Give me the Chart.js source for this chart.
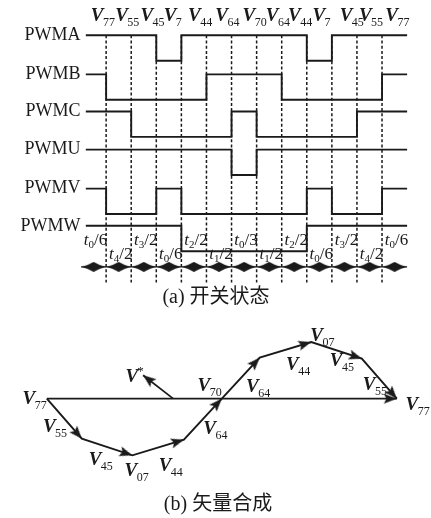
<!DOCTYPE html>
<html>
<head>
<meta charset="utf-8">
<title>开关状态与矢量合成</title>
<script src="https://cdn.jsdelivr.net/npm/chart.js@4.4.1/dist/chart.umd.min.js"></script>
<style>
  html, body { margin: 0; padding: 0; background: #fff; }
  #fig { display: block; }
</style>
</head>
<body>
<canvas id="fig" width="431" height="518"></canvas>
<script>
// ---------------- data ----------------
// switching sequence over one period (vector applied in each segment)
const segmentVectors = ['77','55','45','7','44','64','70','64','44','7','45','55','77'];
// dwell time of each segment: t_n / d
const dwellIndex = ['0','4','3','0','2','1','0','1','2','0','3','4','0'];
const dwellDiv   = ['6','2','2','6','2','2','3','2','2','6','2','2','6'];

const signalNames = ['PWMA','PWMB','PWMC','PWMU','PWMV','PWMW'];
const pwmA = [1,1,1,0,1,1,1,1,1,0,1,1,1];
const pwmB = [1,0,0,0,0,1,1,1,0,0,0,0,1];
const pwmC = [1,1,0,0,0,0,1,0,0,0,0,1,1];
const pwmU = [1,1,1,1,1,1,0,1,1,1,1,1,1];
const pwmV = [1,0,0,1,0,0,0,0,0,1,0,0,1];
const pwmW = [1,1,1,1,0,0,0,0,0,1,1,1,1];

// vector composition: successive vectors laid head to tail
const chainNames = ['55','45','07','44','64','70','64','44','07','45','55'];
const chainDx    = [36, 52, 0, 53, 39, 0, 39, 53, 0, 52, 36];
const chainDy    = [-41,-17, 0, 16, 42, 0, 42, 16, 0,-17,-41];
const chainStart = [-180, 0];
const refFrom = [-50, 0];
const refTo   = [-81, 24];

// ---------------- layout ----------------
const W = 431, H = 518;
const SEG_LEFT = 77.2, SEG_W = 25.8;       // first segment edge and segment width (px)
const ROW_HIGH = [30, 70, 108, 147, 187, 225];
const ROW_SWING = 26;
const WAVE_START = 0.19;
const GUIDE_TOP = 30, GUIDE_BOTTOM = 283;
const SPAN_Y = 267;
const PLANE_ORIGIN = [222, 402];            // px position of the V70 point
const INK = '#1a1a1a';
const SERIF = '"Liberation Serif", "Times New Roman", serif';
const CJK = '"Liberation Serif", "Noto Sans CJK SC", serif';

// horizontal offset of each header label from its segment edge (px)
const HEAD_SHIFT = [9.8, 9, 9.2, 7.4, 6.6, 8.8, 11, 9.2, 6.4, 5.6, 7.8, 2, 3.2];

// vector-plane label anchors [x, y] (left edge of V, centre of V)
const planeLabels = [
  ['77', -205, 1], ['55', -184, -27], ['45', -137, -61], ['07', -100, -72],
  ['44', -65, -67], ['64', -19, -30], ['70', -25, 15], ['64', 25, 13],
  ['44', 66, 36], ['07', 91, 66], ['45', 111, 40], ['55', 145, 16], ['77', 189, -5]
];
const refLabel = [-99, 24];

// ---------------- glyph images for markers ----------------
function makeSpanMark(w, h) {
  const c = document.createElement('canvas');
  c.width = w; c.height = h;
  const g = c.getContext('2d');
  const m = h / 2;
  g.fillStyle = INK;
  g.beginPath();
  g.moveTo(0, m);
  g.quadraticCurveTo(w * 0.3, m - h * 0.2, w / 2, 0);
  g.quadraticCurveTo(w * 0.7, m - h * 0.2, w, m);
  g.quadraticCurveTo(w * 0.7, m + h * 0.2, w / 2, h);
  g.quadraticCurveTo(w * 0.3, m + h * 0.2, 0, m);
  g.fill();
  return c;
}
function makeArrowHead(len, half) {
  const s = 2 * Math.ceil(len + 1);
  const c = document.createElement('canvas');
  c.width = s; c.height = s;
  const g = c.getContext('2d');
  const cx = s / 2, cy = s / 2;
  g.fillStyle = INK;
  g.beginPath();
  g.moveTo(cx, cy);
  g.lineTo(cx - len, cy - half);
  g.lineTo(cx - len * 0.8, cy);
  g.lineTo(cx - len, cy + half);
  g.closePath();
  g.fill();
  return c;
}
const spanMark = makeSpanMark(24, 10);
const arrowHead = makeArrowHead(13, 5);

// ---------------- datasets ----------------
const waves = [pwmA, pwmB, pwmC, pwmU, pwmV, pwmW];
const waveSets = waves.map((states, k) => {
  const pts = states.map((s, i) => ({ x: i === 0 ? WAVE_START : i, y: ROW_HIGH[k] + (1 - s) * ROW_SWING }));
  pts.push({ x: states.length, y: ROW_HIGH[k] + (1 - states[states.length - 1]) * ROW_SWING });
  return {
    label: signalNames[k], data: pts, xAxisID: 'x', yAxisID: 'y',
    stepped: 'before', borderColor: INK, borderWidth: 1.9, pointRadius: 0, fill: false
  };
});

const guidePts = [];
for (let i = 1; i < segmentVectors.length; i++) {
  guidePts.push({ x: i, y: GUIDE_TOP }, { x: i, y: GUIDE_BOTTOM }, { x: i, y: null });
}
const guideSet = {
  label: 'edges', data: guidePts, xAxisID: 'x', yAxisID: 'y',
  borderColor: INK, borderWidth: 1.5, borderDash: [3, 2.2], pointRadius: 0, spanGaps: false
};

const spanLine = {
  label: 'span', data: [{ x: 0, y: SPAN_Y }, { x: segmentVectors.length, y: SPAN_Y }],
  xAxisID: 'x', yAxisID: 'y', borderColor: INK, borderWidth: 1.2, pointRadius: 0
};
const spanMarks = {
  label: 'spanMarks', data: segmentVectors.map((_, i) => ({ x: i + 0.5, y: SPAN_Y })),
  xAxisID: 'x', yAxisID: 'y', showLine: false, pointStyle: spanMark, pointRadius: 4
};

// vector chain
let p = chainStart.slice();
const chainPts = [{ x: p[0], y: p[1] }];
const headPts = [], headRot = [];
chainDx.forEach((dx, i) => {
  const dy = chainDy[i];
  if (dx === 0 && dy === 0) return;          // zero vectors add no displacement
  p = [p[0] + dx, p[1] + dy];
  chainPts.push({ x: p[0], y: p[1] });
  headPts.push({ x: p[0], y: p[1] });
  headRot.push(Math.atan2(-dy, dx) * 180 / Math.PI);
});
// resultant from start to end
headPts.push({ x: p[0], y: p[1] });
headRot.push(Math.atan2(-(p[1] - chainStart[1]), p[0] - chainStart[0]) * 180 / Math.PI);
// reference vector
headPts.push({ x: refTo[0], y: refTo[1] });
headRot.push(Math.atan2(-(refTo[1] - refFrom[1]), refTo[0] - refFrom[0]) * 180 / Math.PI);

const chainSet = {
  label: 'chain', data: chainPts, xAxisID: 'xv', yAxisID: 'yv',
  borderColor: INK, borderWidth: 1.9, pointRadius: 0
};
const resultSet = {
  label: 'resultant', data: [{ x: chainStart[0], y: chainStart[1] }, { x: p[0], y: p[1] }],
  xAxisID: 'xv', yAxisID: 'yv', borderColor: INK, borderWidth: 1.8, pointRadius: 0
};
const refSet = {
  label: 'reference', data: [{ x: refFrom[0], y: refFrom[1] }, { x: refTo[0], y: refTo[1] }],
  xAxisID: 'xv', yAxisID: 'yv', borderColor: INK, borderWidth: 1.7, pointRadius: 0
};
const headSet = {
  label: 'heads', data: headPts, xAxisID: 'xv', yAxisID: 'yv', showLine: false,
  pointStyle: arrowHead, pointRadius: 5, pointRotation: headRot
};

// ---------------- text ----------------
function drawV(ctx, x, cy, sub, sup) {
  ctx.textAlign = 'left';
  ctx.textBaseline = 'alphabetic';
  ctx.font = 'italic bold 19px ' + SERIF;
  const base = cy + 6.5;
  ctx.fillText('V', x, base);
  const w = ctx.measureText('V').width;
  if (sub) {
    ctx.font = '12px ' + SERIF;
    ctx.fillText(sub, x + w - 0.5, base + 5);
  }
  if (sup) {
    ctx.font = '13px ' + SERIF;
    ctx.fillText(sup, x + w - 1, base - 7);
  }
}
function drawT(ctx, cx, base, idx, div) {
  ctx.textBaseline = 'alphabetic';
  ctx.textAlign = 'left';
  const fT = 'italic 17px ' + SERIF, fS = '11px ' + SERIF, fD = '17px ' + SERIF;
  ctx.font = fT; const w1 = ctx.measureText('t').width;
  ctx.font = fS; const w2 = ctx.measureText(idx).width;
  ctx.font = fD; const w3 = ctx.measureText('/' + div).width;
  let x = cx - (w1 + w2 + w3) / 2;
  ctx.font = fT; ctx.fillText('t', x, base); x += w1;
  ctx.font = fS; ctx.fillText(idx, x, base + 3); x += w2;
  ctx.font = fD; ctx.fillText('/' + div, x, base);
}

const figureText = {
  id: 'figureText',
  afterDraw(chart) {
    const { ctx, scales } = chart;
    const sx = scales.x, sy = scales.y, vx = scales.xv, vy = scales.yv;
    ctx.save();
    ctx.fillStyle = INK;

    // signal names
    ctx.font = '18px ' + SERIF;
    ctx.textAlign = 'right';
    ctx.textBaseline = 'middle';
    signalNames.forEach((s, k) => ctx.fillText(s, sx.getPixelForValue(0) - 0.5, sy.getPixelForValue(ROW_HIGH[k])));

    // vector applied in each segment
    segmentVectors.forEach((v, i) => drawV(ctx, sx.getPixelForValue(i) + HEAD_SHIFT[i], 14.5, v));

    // dwell times, alternating rows
    segmentVectors.forEach((_, i) => {
      const cx = sx.getPixelForValue(i + 0.5) + 2;
      drawT(ctx, cx, i % 2 === 0 ? 245 : 259, dwellIndex[i], dwellDiv[i]);
    });

    // vector plane labels
    planeLabels.forEach(([sub, x, y]) => drawV(ctx, vx.getPixelForValue(x), vy.getPixelForValue(y), sub));
    drawV(ctx, vx.getPixelForValue(refLabel[0]), vy.getPixelForValue(refLabel[1]), null, '*');

    // captions
    ctx.font = '20px ' + CJK;
    ctx.textAlign = 'center';
    ctx.textBaseline = 'middle';
    ctx.fillText('(a) 开关状态', 216, 298);
    ctx.fillText('(b) 矢量合成', 218, 505);
    ctx.restore();
  }
};

// ---------------- chart ----------------
new Chart(document.getElementById('fig'), {
  type: 'line',
  data: {
    datasets: [...waveSets, guideSet, spanLine, spanMarks, headSet, chainSet, resultSet, refSet]
  },
  options: {
    responsive: false,
    animation: false,
    events: [],
    devicePixelRatio: 1,
    layout: { padding: 0 },
    clip: false,
    plugins: { legend: { display: false }, tooltip: { enabled: false } },
    scales: {
      x:  { type: 'linear', display: false, min: -SEG_LEFT / SEG_W, max: (W - SEG_LEFT) / SEG_W },
      y:  { type: 'linear', display: false, reverse: true, min: 0, max: H },
      xv: { type: 'linear', display: false, axis: 'x', min: -PLANE_ORIGIN[0], max: W - PLANE_ORIGIN[0] },
      yv: { type: 'linear', display: false, axis: 'y', min: PLANE_ORIGIN[1] - H, max: PLANE_ORIGIN[1] }
    }
  },
  plugins: [figureText]
});
</script>
</body>
</html>
